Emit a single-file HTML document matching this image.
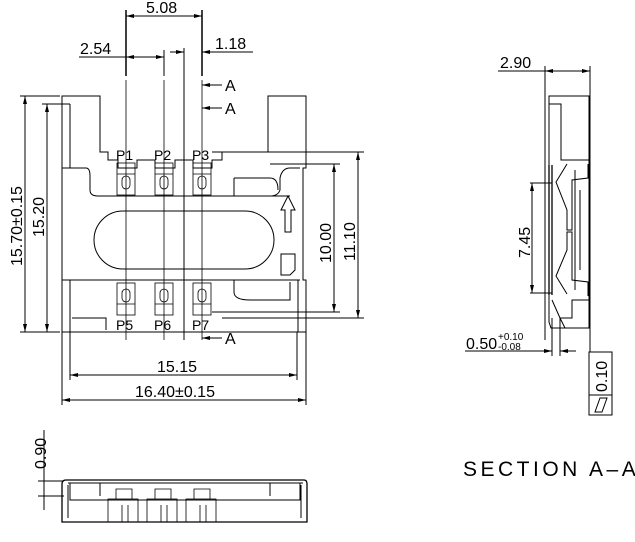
<!DOCTYPE html><html><head><style>body{margin:0;background:#fff}svg{display:block}text{font-family:"Liberation Sans",sans-serif;font-size:16px;fill:#000}</style></head><body>
<svg width="635" height="542" viewBox="0 0 635 542" fill="none" stroke="#000" stroke-width="1">
<defs><marker id="a" markerWidth="8" markerHeight="6" refX="8" refY="3" orient="auto-start-reverse" markerUnits="userSpaceOnUse"><path d="M0,1 L8,3 L0,5z" fill="#000" stroke="none"/></marker></defs>
<g stroke-width="1">
<line x1="126" y1="10" x2="126" y2="76" stroke-width="1.5"/><line x1="202" y1="10" x2="202" y2="76" stroke-width="1.5"/>
<line x1="164" y1="50" x2="164" y2="76"/><line x1="184" y1="48" x2="184" y2="340"/>
<line x1="126" y1="16" x2="202" y2="16" marker-start="url(#a)" marker-end="url(#a)"/>
<line x1="79" y1="57" x2="164" y2="57" marker-end="url(#a)"/><line x1="126" y1="57" x2="140" y2="57" marker-start="url(#a)"/>
<line x1="170" y1="52" x2="184" y2="52" marker-end="url(#a)"/><line x1="202" y1="52" x2="253" y2="52" marker-start="url(#a)"/>
<line x1="202" y1="85" x2="222" y2="85" marker-start="url(#a)"/><line x1="202" y1="108" x2="222" y2="108" marker-start="url(#a)"/><line x1="202" y1="338" x2="222" y2="338" marker-start="url(#a)"/>
</g>
<text x="146" y="13" stroke="none">5.08</text><text x="80" y="54" stroke="none">2.54</text><text x="215" y="49" stroke="none">1.18</text>
<text x="225" y="91" stroke="none">A</text><text x="225" y="114" stroke="none">A</text><text x="225" y="344" stroke="none">A</text>
<g stroke-width="0.8"><line x1="126" y1="80" x2="126" y2="340"/><line x1="164" y1="80" x2="164" y2="340"/><line x1="202" y1="80" x2="202" y2="340"/></g>
<path d="M62,96 H100 V152 H108 V160 H118 V168 H137 V160 H155 V168 H175 V160 H193 V168 H212 V160 H222 V152 H268 V96 H306 V168 H303 V280 H306 V332 H62 Z"/>
<path d="M70,104 V168 M62,168 H86 Q90,168 90,176 V190 Q90,196 98,196 H290 M300,168 H290 Q282,168 280,178 V190 Q278,196 270,196"/>
<path d="M62,280 H300 M70,280 V332 M298,280 V332 M72,318 H106 V330 M268,318 H295 M222,318 H268"/>
<path d="M234,178 H270 Q278,178 278,190 M234,178 V196 M234,280 V292 Q234,300 250,300 H290 V282"/>
<rect x="94" y="211" width="180" height="58" rx="29"/>
<path d="M285,232 V210 H281 L288,196 L295,210 H291 V232 Z"/>
<path d="M281,254 H295 V270 L290,275 H281 Z"/>
<g stroke-width="0.8">
<rect x="117" y="163" width="18" height="32"/><rect x="155" y="163" width="18" height="32"/><rect x="193" y="163" width="18" height="32"/>
<rect x="117" y="283" width="18" height="32"/><rect x="155" y="283" width="18" height="32"/><rect x="193" y="283" width="18" height="32"/>
<rect x="122" y="176" width="8" height="13" rx="4"/><rect x="160" y="176" width="8" height="13" rx="4"/><rect x="198" y="176" width="8" height="13" rx="4"/>
<rect x="122" y="289" width="8" height="13" rx="4"/><rect x="160" y="289" width="8" height="13" rx="4"/><rect x="198" y="289" width="8" height="13" rx="4"/>
<line x1="117" y1="174" x2="135" y2="174"/><line x1="155" y1="174" x2="173" y2="174"/><line x1="193" y1="174" x2="211" y2="174"/>
<line x1="117" y1="304" x2="135" y2="304"/><line x1="155" y1="304" x2="173" y2="304"/><line x1="193" y1="304" x2="211" y2="304"/>
</g>
<text x="116" y="160" stroke="none" style="font-size:14px">P1</text><text x="154" y="160" stroke="none" style="font-size:14px">P2</text><text x="192" y="160" stroke="none" style="font-size:14px">P3</text>
<text x="116" y="330" stroke="none" style="font-size:14px">P5</text><text x="154" y="330" stroke="none" style="font-size:14px">P6</text><text x="192" y="330" stroke="none" style="font-size:14px">P7</text>
<line x1="20" y1="96" x2="60" y2="96"/><line x1="42" y1="104" x2="70" y2="104"/><line x1="20" y1="332" x2="60" y2="332"/>
<line x1="25" y1="96" x2="25" y2="332" marker-start="url(#a)" marker-end="url(#a)"/>
<line x1="47" y1="104" x2="47" y2="332" marker-start="url(#a)" marker-end="url(#a)"/>
<text transform="translate(22,266) rotate(-90)" stroke="none">15.70±0.15</text>
<text transform="translate(44,237) rotate(-90)" stroke="none">15.20</text>
<line x1="212" y1="152" x2="364" y2="152"/><line x1="270" y1="164" x2="340" y2="164"/><line x1="212" y1="312" x2="340" y2="312"/><line x1="222" y1="318" x2="364" y2="318"/>
<line x1="334" y1="164" x2="334" y2="312" marker-start="url(#a)" marker-end="url(#a)"/>
<line x1="358" y1="152" x2="358" y2="318" marker-start="url(#a)" marker-end="url(#a)"/>
<text transform="translate(331,263) rotate(-90)" stroke="none">10.00</text>
<text transform="translate(355,261) rotate(-90)" stroke="none">11.10</text>
<line x1="70" y1="332" x2="70" y2="380"/><line x1="297" y1="332" x2="297" y2="380"/><line x1="62" y1="332" x2="62" y2="405"/><line x1="306" y1="332" x2="306" y2="405"/>
<line x1="70" y1="375" x2="297" y2="375" marker-start="url(#a)" marker-end="url(#a)"/>
<line x1="62" y1="400" x2="306" y2="400" marker-start="url(#a)" marker-end="url(#a)"/>
<text x="157" y="372" stroke="none">15.15</text><text x="135" y="397" stroke="none">16.40±0.15</text>
<line x1="44" y1="430" x2="44" y2="510"/><line x1="38" y1="481" x2="64" y2="481"/><line x1="38" y1="496" x2="64" y2="496"/>
<text transform="translate(46,469) rotate(-90)" stroke="none">0.90</text>
<path d="M66,480 H304 Q307,480 307,484 V522 H62 V484 Q62,480 66,480 Z" stroke-width="1.3"/>
<path d="M68,483 H303 M70,483 V500 H300 V483 M100,483 V496 M270,483 V496 M68,485 V518 M301,485 V518"/>
<g stroke-width="0.8"><rect x="108" y="499" width="30" height="23"/><rect x="147" y="499" width="30" height="23"/><rect x="186" y="499" width="30" height="23"/>
<path d="M116,499 V489 H132 V499 M155,499 V489 H171 V499 M194,499 V489 H210 V499"/>
<path d="M122,505 V522 M128,505 V522 M161,505 V522 M167,505 V522 M200,505 V522 M206,505 V522"/></g>
<line x1="545" y1="66" x2="545" y2="340"/><line x1="590" y1="66" x2="590" y2="352"/>
<line x1="498" y1="71" x2="545" y2="71"/><line x1="545" y1="71" x2="590" y2="71" marker-start="url(#a)" marker-end="url(#a)"/>
<text x="500" y="68" stroke="none">2.90</text>
<path d="M549,96 H589 V328 H551 L549,322 Z"/>
<path d="M549,104 H561 V160 H589 M561,104 V160"/>
<path d="M549,165 V295 M552,165 V295" stroke-width="1.3"/>
<path d="M567,164 L556,182 L567,210 V230 H572 V180 L588,178 V164 M567,294 L556,276 L567,250 V232 H572 V280 L588,282 V296 M575,170 V290 M580,190 V270"/>
<path d="M552,300 L560,318 L572,318 V300 H589 M560,318 L565,328"/>
<line x1="530" y1="183" x2="552" y2="183"/><line x1="530" y1="293" x2="552" y2="293"/>
<line x1="532" y1="183" x2="532" y2="293" marker-start="url(#a)" marker-end="url(#a)"/>
<text transform="translate(530,258) rotate(-90)" stroke="none">7.45</text>
<line x1="552" y1="318" x2="552" y2="356"/><line x1="560" y1="318" x2="560" y2="356"/>
<line x1="465" y1="351" x2="552" y2="351" marker-end="url(#a)"/><line x1="560" y1="351" x2="576" y2="351" marker-start="url(#a)"/>
<text x="466" y="349" stroke="none">0.50</text><text x="498" y="340" stroke="none" style="font-size:10px">+0.10</text><text x="498" y="350" stroke="none" style="font-size:10px">-0.08</text>
<rect x="589" y="352" width="23" height="63"/><line x1="589" y1="395" x2="612" y2="395"/>
<path d="M595,412 L600,398 H607 L602,412 Z"/>
<text transform="translate(607,392) rotate(-90)" stroke="none">0.10</text>
<text x="463" y="476" stroke="none" style="font-size:21px;letter-spacing:3.5px">SECTION A–A</text>
</svg></body></html>
